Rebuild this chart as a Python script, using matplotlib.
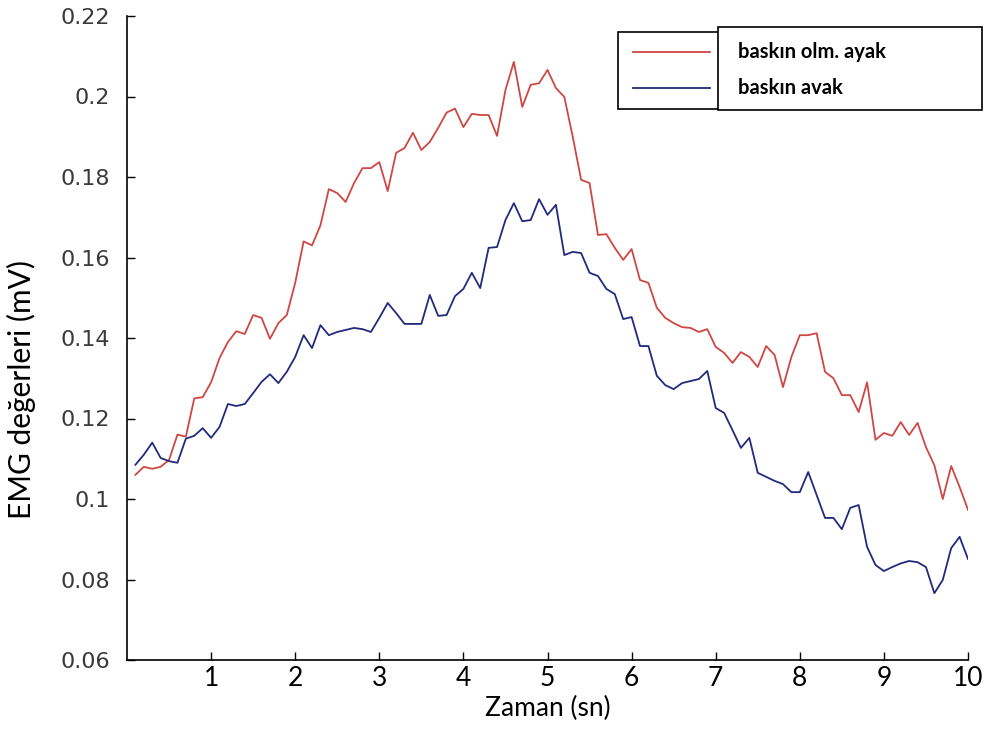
import matplotlib.pyplot as plt
import numpy as np
from matplotlib.patches import Rectangle
from matplotlib.lines import Line2D

# EMG readings, sampled every 0.1 s
olm_ayak = [0.106, 0.108, 0.1075, 0.108, 0.1097, 0.116, 0.1155, 0.125, 0.1253, 0.129,
            0.135, 0.139, 0.1417, 0.141, 0.1457, 0.145, 0.1398, 0.1437, 0.1457, 0.1537,
            0.164, 0.163, 0.168, 0.177, 0.176, 0.1738,
            0.1785, 0.1822, 0.1822, 0.1837, 0.1765, 0.186, 0.1872, 0.191, 0.1867, 0.1887,
            0.1922, 0.196, 0.197, 0.1924, 0.1957, 0.1954, 0.1954, 0.1902, 0.2016, 0.2086,
            0.1974, 0.2029, 0.2033, 0.2066, 0.2021, 0.1999, 0.19,
            0.1793, 0.1785, 0.1656, 0.1658, 0.1624, 0.1594, 0.1621, 0.1544, 0.1537, 0.1475,
            0.145, 0.1437, 0.1427, 0.1425, 0.1415, 0.1422, 0.1378, 0.1363, 0.1338, 0.1365,
            0.1353, 0.1328, 0.138, 0.1358, 0.1278, 0.1353,
            0.1407, 0.1407, 0.1412, 0.1316, 0.13, 0.1258, 0.1258, 0.1216, 0.129, 0.1147,
            0.1164, 0.1157, 0.1191, 0.1159, 0.1189, 0.1129, 0.1084, 0.1, 0.1082, 0.103,
            0.0973]

ayak = [0.1085, 0.111, 0.114, 0.1102, 0.1094, 0.109, 0.115, 0.1157, 0.1176, 0.1152,
        0.1179, 0.1236, 0.1231, 0.1236, 0.1263, 0.1291, 0.131, 0.1288, 0.1316, 0.1353,
        0.1407, 0.1375, 0.1432, 0.1407, 0.1415, 0.142,
        0.1425, 0.1422, 0.1415, 0.145, 0.1487, 0.1462, 0.1435, 0.1435, 0.1435, 0.1507,
        0.1455, 0.1457, 0.1504, 0.1522, 0.1562, 0.1524, 0.1624, 0.1626, 0.1693, 0.1735,
        0.169, 0.1693, 0.1745, 0.1706, 0.1731, 0.1606, 0.1614,
        0.1611, 0.1562, 0.1554, 0.1522, 0.1509, 0.1447, 0.1452, 0.138, 0.138, 0.1306,
        0.1283, 0.1273, 0.1288, 0.1293, 0.1298, 0.1318, 0.1226, 0.1214, 0.1171, 0.1127,
        0.1152,
        0.1065, 0.1055, 0.1045, 0.1037, 0.1017, 0.1017, 0.1067, 0.101, 0.0953, 0.0953,
        0.0925, 0.0978, 0.0985, 0.0881, 0.0836, 0.0821, 0.0831, 0.084, 0.0846, 0.0843,
        0.0831, 0.0766, 0.0799, 0.0878, 0.0906, 0.0851]

t = np.linspace(0.1, 10.0, len(olm_ayak))

xticks = [1, 2, 3, 4, 5, 6, 7, 8, 9, 10]
yticks = [0.06, 0.08, 0.1, 0.12, 0.14, 0.16, 0.18, 0.2, 0.22]
ylabels = ['0.06', '0.08', '0.1', '0.12', '0.14', '0.16', '0.18', '0.2', '0.22']
names = ['baskın olm. ayak', 'baskın avak']

fig = plt.figure(figsize=(9.9, 7.48), dpi=100)
ax = fig.add_axes([127/990, 1-660/748, (968-127)/990, (660-16)/748])

l1, = ax.plot(t, olm_ayak, color='#cf4743', linewidth=1.3)
l2, = ax.plot(t, ayak, color='#222a7c', linewidth=1.3)

ax.set_xlim(0, 10)
ax.set_ylim(0.06, 0.22)
ax.spines['top'].set_visible(False)
ax.spines['right'].set_visible(False)
for s in ['left', 'bottom']:
    ax.spines[s].set_linewidth(1.2)

ax.set_xticks(xticks)
ax.set_xticklabels([str(x) for x in xticks], family='Lato', fontsize=19)
ax.set_yticks(yticks)
ax.set_yticklabels(ylabels, family='DejaVu Sans', fontsize=16, color='#3a3a3a')
ax.tick_params(axis='x', direction='in', length=6, width=1, pad=4)
ax.tick_params(axis='y', direction='in', length=6, width=1, pad=12)

ax.set_xlabel('Zaman (sn)', family='Lato', fontsize=19, labelpad=4)
ax.set_ylabel('EMG değerleri (mV)', family='Lato', fontsize=21.5)
ax.yaxis.set_label_coords(-0.108, 0.42)

# legend: outer box with line keys, inner box with the names
def fx(px):
    return px / 990

def fy(py):
    return 1 - py / 748

fig.add_artist(Rectangle((fx(618), fy(109)), fx(957) - fx(618), fy(32) - fy(109),
                         transform=fig.transFigure, facecolor='white', edgecolor='black', lw=1.2))
fig.add_artist(Rectangle((fx(718), fy(110)), fx(982) - fx(718), fy(27) - fy(110),
                         transform=fig.transFigure, facecolor='white', edgecolor='black', lw=1.2))
for ln, ypx, name in [(l1, 52, names[0]), (l2, 88, names[1])]:
    fig.add_artist(Line2D([fx(633), fx(710)], [fy(ypx), fy(ypx)], transform=fig.transFigure,
                          color=ln.get_color(), lw=1.3))
    fig.text(fx(738), fy(ypx), name, family='Lato', fontweight='bold', fontsize=14.5,
             va='center', ha='left')

fig.savefig('out.png', dpi=100)
